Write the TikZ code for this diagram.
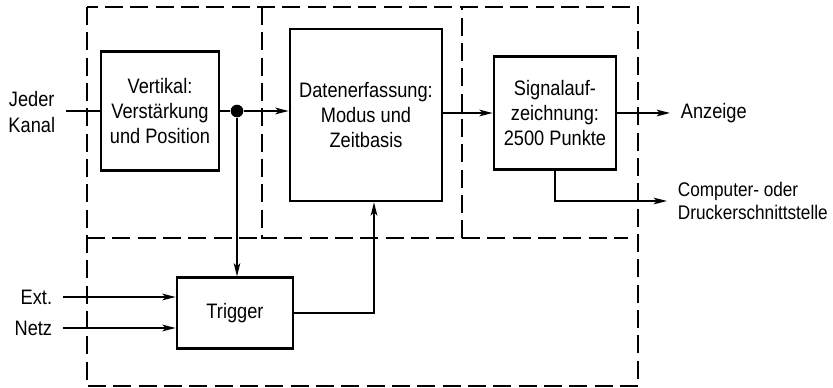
\documentclass[tikz,border=0pt]{standalone}
\usepackage{fontspec}
\setmainfont[FakeStretch=0.87]{Liberation Sans}
\usetikzlibrary{arrows.meta, positioning, calc}
\tikzset{
  blk/.style ={rectangle, draw=black, line width=2pt, align=center, inner sep=2pt,
               font=\fontsize{15.7}{18.75}\selectfont},
  grp/.style ={draw=black, line width=1.4pt, dash pattern=on 13.5pt off 5.5pt},
  wire/.style={line width=1pt},
  sig/.style ={-{Stealth[length=10pt, width=5pt, inset=2.5pt]}, line width=1pt},
  lbl/.style ={align=center, inner ysep=0pt, inner xsep=8pt, font=\fontsize{15.7}{20}\selectfont},
  lbls/.style={align=left, inner ysep=0pt, inner xsep=8pt, font=\fontsize{14.8}{17}\selectfont},
}

\begin{document}
\begin{tikzpicture}[x=0.75pt, y=-0.75pt]
  \useasboundingbox (0,0) rectangle (833,388);
  % gestrichelte Gruppen
  \draw[grp] (87,7) rectangle (638,386);
  \draw[grp] (87,238) -- (262,238);
  \draw[grp] (262,7) -- (262,238) -- (462,238) -- (462,7);
  \draw[grp] (462,238) -- (628,238);
  % Bloecke
  \node[blk, minimum width=88.5pt, minimum height=89pt] (vert) at (160,111) {Vertikal:\\Verstärkung\\und Position};
  \node[blk, minimum width=114pt, minimum height=129pt] (daq) at (366,115) {Datenerfassung:\\Modus und\\Zeitbasis};
  \node[blk, minimum width=91.5pt, minimum height=85pt] (rec) at (555,113) {Signalauf-\\zeichnung:\\2500 Punkte};
  \node[blk, minimum width=87pt, minimum height=53pt] (trig) at (235,313) {Trigger};
  \node[circle, fill=black, inner sep=0pt, minimum size=9.5pt] (dot) at (237,111) {};
  % Ein- und Ausgaenge
  \node[lbl, anchor=east] (kanal) at (66,112) {Jeder\\Kanal};
  \node[lbl, anchor=east] (ext) at (63,297) {Ext.};
  \node[lbl, anchor=east] (netz) at (63,328) {Netz};
  \node[lbl, anchor=west] (disp) at (670,113) {Anzeige};
  \node[lbls, anchor=west] (comp) at (667,201) {Computer- oder\\Druckerschnittstelle};
  % Verbindungen
  \draw[wire] (vert.west -| kanal.east) -- (vert.west);
  \draw[wire] (vert.east) -- (dot);
  \draw[sig] (dot) -- (dot -| daq.west);
  \draw[sig] (dot) -- (dot |- trig.north);
  \draw[sig] (daq.east |- rec.west) -- (rec.west);
  \draw[sig] (rec.east) -- (disp.west);
  \draw[sig] (rec.south) |- (comp.west);
  \draw[sig] (ext.east) -- (ext.east -| trig.west);
  \draw[sig] (netz.east) -- (netz.east -| trig.west);
  \draw[sig] (trig.east) -| ([xshift=6pt]daq.south);
\end{tikzpicture}
\end{document}
